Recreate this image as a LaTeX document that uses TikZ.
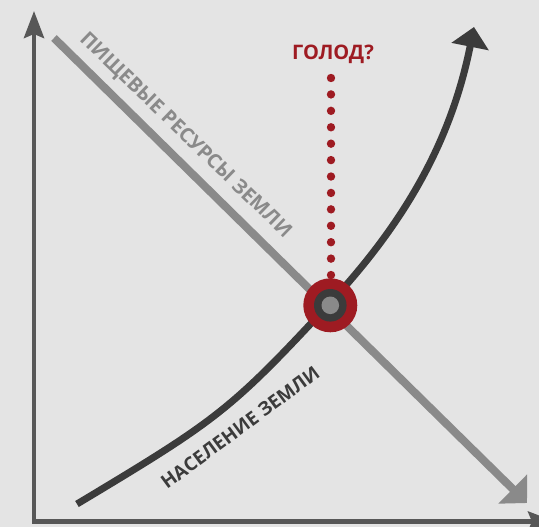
\documentclass[tikz,border=0pt]{standalone}
\usepackage{fontspec}
\setmainfont{Open Sans}
\usetikzlibrary{arrows.meta}
\definecolor{bg}{HTML}{E4E4E4}
\definecolor{axiscol}{HTML}{575757}
\definecolor{foodcol}{HTML}{8A8A8A}
\definecolor{popcol}{HTML}{3B3B3B}
\definecolor{hungercol}{HTML}{9E1B22}
\tikzset{
  axisline/.style={draw=axiscol, line width=4.5pt,
    {Stealth[length=27pt,width=20pt,inset=4pt]}-{Stealth[length=27pt,width=20pt,inset=4pt]}},
  foodline/.style={draw=foodcol, line width=8pt, -{Triangle[length=20pt,width=40pt]}},
  popline/.style={draw=popcol, line width=7pt, -{Triangle[length=20pt,width=37pt]}},
  lbl/.style={font=\fontsize{20}{20}\selectfont\bfseries, text height=0.714em, text depth=0pt, inner sep=0pt, anchor=center},
  hdot/.style={fill=hungercol}
}
\begin{document}
\begin{tikzpicture}[x=1pt,y=-1pt]
\fill[bg] (0,0) rectangle (539,527);
\useasboundingbox (0,0) rectangle (539,527);
\clip (0,0) rectangle (539,527);
\coordinate (ytip) at (34,11);
\coordinate (origin) at (34,521.5);
\coordinate (xtip) at (555,521.5);
\coordinate (foodstart) at (54,38);
\coordinate (foodend) at (527,503);
\coordinate (cross) at (330.3,305.3);
\coordinate (popstart) at (77,504);
\coordinate (popmid) at (330,303);
\coordinate (popend) at (474,27);
% axes
\draw[axisline] (ytip) -- (origin) -- (xtip);
% food resources line
\draw[foodline] (foodstart) -- (foodend);
% population curve
\draw[popline] (popstart) .. controls (217,420) and (230,411) .. (popmid)
  .. controls (400,227.4) and (450,147) .. (popend);
% dotted line
\foreach \i in {0,...,12} \fill[hdot] (331,78+16.42*\i) circle[radius=4.2pt];
% crossing marker
\fill[hungercol] (cross) circle[radius=27pt];
\fill[popcol] (cross) circle[radius=16.3pt];
\fill[foodcol] (cross) circle[radius=8.8pt];
% labels
\node[lbl, text=hungercol] (hunger) at (333,56) {ГОЛОД?};
\node[lbl, text=foodcol, rotate=-44] (foodlbl) at (184,137) {ПИЩЕВЫЕ РЕСУРСЫ ЗЕМЛИ};
\node[lbl, text=popcol, rotate=36.5, font=\fontsize{19}{19}\selectfont\bfseries] (poplbl) at (242,430) {НАСЕЛЕНИЕ ЗЕМЛИ};
\end{tikzpicture}
\end{document}
